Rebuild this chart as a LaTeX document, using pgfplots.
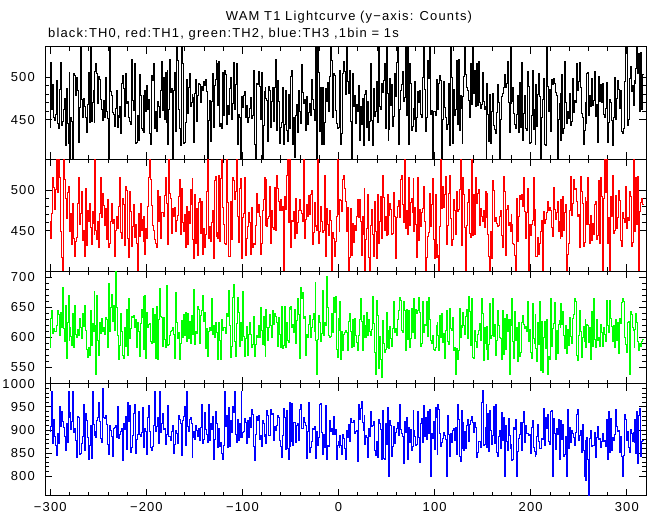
\documentclass[border=0pt]{standalone}
\usepackage{pgfplots}
\usepackage{pgfplotstable}
\pgfplotsset{compat=1.18}
\usepackage{fontspec}
\setmainfont{Liberation Sans}[LetterSpace=9]
\pgfplotstableread{
t a b c d
-300 441 462 583 897
-299 518 440 632 907
-298 462 471 645 984
-297 492 515 606 871
-296 453 503 615 922
-295 449 476 610 886
-294 456 501 609 867
-293 496 541 620 844
-292 445 497 644 893
-291 440 541 638 871
-290 486 516 603 950
-289 518 449 641 907
-288 443 417 617 940
-287 448 398 684 918
-286 462 541 615 905
-285 475 513 593 886
-284 419 490 653 855
-283 487 465 565 914
-282 445 497 624 873
-281 422 504 669 984
-280 506 479 594 928
-279 401 449 616 938
-278 453 471 601 901
-277 448 433 586 918
-276 401 483 640 984
-275 504 441 582 895
-274 502 418 653 904
-273 478 437 604 877
-272 500 442 600 840
-271 485 484 613 930
-270 423 516 603 928
-269 464 458 632 846
-268 540 471 617 848
-267 474 498 597 871
-266 453 438 640 885
-265 475 450 618 956
-264 465 418 653 855
-263 452 502 612 936
-262 435 432 580 920
-261 468 475 566 883
-260 506 462 583 836
-259 446 484 569 867
-258 540 454 645 909
-257 448 433 586 838
-256 470 474 623 984
-255 484 459 610 912
-254 447 446 677 887
-253 507 541 620 897
-252 517 451 538 884
-251 505 439 669 920
-250 469 462 594 928
-249 501 430 569 960
-248 497 471 625 918
-247 474 515 606 882
-246 462 466 631 873
-245 449 496 610 990
-244 473 481 617 926
-243 452 456 604 924
-242 500 477 633 932
-241 459 439 629 911
-240 451 488 583 869
-239 401 430 690 846
-238 540 435 609 909
-237 483 461 650 899
-236 479 483 672 885
-235 458 459 626 842
-234 456 464 653 904
-233 442 419 612 905
-232 463 451 710 910
-231 485 467 649 883
-230 441 453 603 950
-229 455 475 569 926
-228 453 480 562 881
-227 466 515 586 891
-226 434 448 640 896
-225 493 441 610 903
-224 502 490 570 834
-223 487 482 565 914
-222 454 432 616 901
-221 505 504 585 930
-220 469 499 647 857
-219 472 440 569 960
-218 453 417 665 918
-217 448 498 597 952
-216 444 474 615 852
-215 521 431 635 863
-214 473 455 633 887
-213 461 482 637 936
-212 517 442 616 954
-211 422 458 629 850
-210 423 434 583 880
-209 455 398 624 890
-208 425 471 609 940
-207 503 443 567 891
-206 479 483 623 885
-205 439 450 646 895
-204 437 464 633 948
-203 478 437 668 897
-202 435 468 580 861
-201 485 421 669 903
-200 460 453 564 897
-199 490 440 641 846
-198 462 480 617 928
-197 474 515 622 952
-196 434 541 623 896
-195 421 513 593 863
-194 502 481 589 855
-193 496 456 648 865
-192 517 451 591 910
-191 440 439 638 984
-190 460 434 564 897
-189 436 430 652 907
-188 471 500 562 928
-187 466 461 630 871
-186 453 492 681 984
-185 484 441 635 895
-184 519 472 633 914
-183 461 473 584 936
-182 500 468 633 901
-181 450 493 596 903
-180 506 516 583 869
-179 446 484 686 890
-178 508 435 645 892
-177 420 433 586 952
-176 462 541 587 885
-175 521 496 602 886
-174 482 490 609 878
-173 487 447 612 897
-172 401 477 616 910
-171 485 467 605 850
-170 506 479 564 869
-169 436 449 675 899
-168 540 463 625 892
-167 520 469 597 871
-166 462 492 607 932
-165 439 513 563 922
-164 419 446 589 914
-163 540 502 628 844
-162 517 460 600 920
-161 422 449 638 930
-160 423 470 603 950
-159 446 430 641 867
-158 497 480 592 984
-157 457 433 639 908
-156 488 474 598 896
-155 504 459 626 922
-154 465 501 589 926
-153 470 482 637 914
-152 480 514 608 840
-151 476 439 605 883
-150 423 416 680 897
-149 481 495 588 879
-148 497 435 609 909
-147 448 478 606 899
-146 479 420 651 885
-145 493 485 646 903
-144 491 490 589 878
-143 470 447 637 905
-142 489 486 644 954
-141 485 421 669 871
-140 495 453 627 880
-139 490 430 641 938
-138 497 445 581 901
-137 483 498 614 891
-136 401 541 568 873
-135 449 441 610 956
-134 473 455 617 878
-133 424 437 612 914
-132 471 460 664 901
-131 505 475 605 930
-130 441 416 619 836
-129 490 512 599 879
-128 497 517 625 940
-127 520 443 622 930
-126 516 448 607 913
-125 467 441 563 863
-124 519 518 625 904
-123 442 437 595 865
-122 445 514 562 873
-121 440 541 629 850
-120 506 479 611 836
-119 455 458 616 867
-118 508 435 617 984
-117 503 433 606 908
-116 444 541 640 932
-115 467 485 635 863
-114 456 418 679 948
-113 487 419 620 865
-112 500 486 566 920
-111 450 439 585 894
-110 469 516 667 950
-109 518 512 688 938
-108 462 489 592 984
-107 492 498 567 891
-106 516 541 623 873
-105 421 467 666 922
-104 456 436 642 878
-103 452 502 584 914
-102 401 514 624 884
-101 440 504 621 984
-100 477 416 594 884
-99 464 466 676 894
-98 479 471 601 896
-97 483 515 567 925
-96 453 420 598 917
-95 467 441 618 870
-94 447 455 570 921
-93 452 473 604 883
-92 463 460 624 927
-91 476 421 605 906
-90 451 479 583 945
-89 455 430 588 933
-88 508 435 634 864
-87 420 433 567 833
-86 401 457 587 891
-85 493 496 602 929
-84 491 472 600 921
-83 507 482 620 931
-82 489 468 600 879
-81 450 421 649 889
-80 506 434 611 864
-79 401 475 588 921
-78 443 489 634 913
-77 483 515 586 886
-76 488 457 568 891
-75 475 513 646 870
-74 473 455 617 943
-73 424 465 595 931
-72 489 468 616 888
-71 485 504 638 889
-70 441 434 619 945
-69 472 475 599 933
-68 488 454 645 935
-67 448 452 622 877
-66 488 503 640 908
-65 521 450 635 898
-64 437 518 625 909
-63 496 502 584 931
-62 471 486 633 927
-61 422 475 605 878
-60 441 488 583 864
-59 446 475 652 841
-58 488 480 581 887
-57 420 398 586 947
-56 444 492 651 927
-55 484 476 582 858
-54 437 518 625 943
-53 424 541 595 860
-52 480 460 591 835
-51 440 541 649 959
-50 495 434 647 864
-49 501 430 652 874
-48 508 463 617 957
-47 420 461 622 866
-46 453 474 607 917
-45 405 441 646 917
-44 455 490 589 873
-43 468 447 628 909
-42 435 460 664 915
-41 484 475 638 878
-40 459 488 564 945
-39 445 475 683 955
-38 515 471 665 904
-37 482 461 674 903
-36 469 541 631 927
-35 474 441 635 917
-34 437 464 570 909
-33 477 482 604 839
-32 444 468 600 896
-31 458 493 621 959
-30 469 470 636 852
-29 455 495 599 862
-28 497 500 617 876
-27 474 433 630 903
-26 462 448 640 900
-25 449 485 610 907
-24 482 455 692 850
-23 540 456 595 839
-22 401 451 538 896
-21 540 541 596 866
-20 506 434 636 884
-19 436 449 624 955
-18 488 480 592 957
-17 420 461 606 894
-16 488 448 679 847
-15 421 450 602 890
-14 447 518 625 862
-13 487 419 620 953
-12 471 477 702 835
-11 494 458 649 866
-10 460 444 603 864
-9 501 475 599 921
-8 540 463 601 896
-7 520 398 639 903
-6 453 448 607 891
-5 504 441 666 929
-4 502 418 642 890
-3 461 437 668 900
-2 445 468 580 835
-1 440 541 566 866
0 441 470 631 875
1 501 449 611 862
2 508 489 660 887
3 420 487 562 866
4 434 474 610 847
5 504 513 577 890
6 519 518 604 882
7 507 502 607 860
8 480 486 611 835
9 540 449 608 898
10 495 479 578 884
11 481 398 627 911
12 508 417 640 876
13 448 478 609 925
14 401 420 582 917
15 504 459 630 917
16 465 436 584 921
17 478 456 632 892
18 445 451 603 896
19 468 467 591 898
20 460 488 578 831
21 490 466 603 955
22 425 489 629 923
23 466 461 665 947
24 444 420 626 961
25 475 467 577 917
26 419 446 637 899
27 442 502 599 931
28 480 398 619 868
29 485 439 600 889
30 441 453 642 884
31 472 495 603 841
32 425 417 629 904
33 448 398 609 886
34 516 457 602 939
35 449 476 613 907
36 419 446 668 909
37 487 419 623 919
38 454 486 575 856
39 459 449 538 845
40 495 416 662 875
41 446 495 636 841
42 540 435 548 923
43 466 461 601 913
44 462 492 563 900
45 493 441 532 837
46 482 518 628 943
47 496 491 590 839
48 517 451 575 835
49 440 467 580 915
50 540 444 642 868
51 481 495 583 948
52 425 445 612 897
53 438 469 581 800
54 499 483 618 920
55 467 476 597 910
56 491 446 584 843
57 442 447 615 865
58 454 497 659 908
59 505 467 608 871
60 477 416 614 894
61 518 466 603 904
62 540 480 629 916
63 420 487 645 887
64 462 466 666 954
65 484 513 661 900
66 491 518 612 892
67 507 482 607 885
68 471 460 659 828
69 476 541 644 918
70 540 453 578 894
71 455 475 647 926
72 540 445 596 836
73 420 515 645 906
74 516 457 582 873
75 493 485 597 900
76 437 490 648 855
77 442 473 607 865
78 463 514 659 942
79 450 449 664 899
80 495 479 598 885
81 436 458 647 867
82 453 417 640 869
83 483 515 645 940
84 470 438 666 884
85 484 476 641 830
86 456 455 584 914
87 452 473 590 924
88 500 477 659 872
89 540 504 608 952
90 486 462 622 885
91 436 398 619 926
92 453 417 660 880
93 520 443 601 940
94 499 448 666 893
95 536 496 630 944
96 456 455 595 800
97 461 482 590 893
98 401 514 603 881
99 459 439 580 918
100 460 416 578 857
101 455 495 583 948
102 497 417 620 928
103 466 433 625 847
104 462 420 602 954
105 493 398 577 944
106 502 455 637 892
107 496 541 599 865
108 401 477 639 872
109 450 504 591 882
110 495 479 606 894
111 464 495 564 887
112 453 517 612 880
113 438 433 645 800
114 444 457 593 932
115 493 496 588 891
116 419 518 648 843
117 540 465 615 893
118 500 432 611 872
119 422 439 633 899
120 486 488 578 904
121 455 475 583 878
122 462 445 538 906
123 520 498 581 847
124 444 474 563 954
125 521 476 577 922
126 437 501 648 843
127 478 541 599 832
128 463 432 619 942
129 422 458 616 859
130 477 516 642 916
131 501 495 619 855
132 540 454 604 897
133 503 398 634 859
134 488 457 646 910
135 484 485 597 922
136 473 501 668 875
137 452 447 643 912
138 517 442 586 920
139 468 541 664 930
140 540 444 566 916
141 481 495 564 895
142 508 445 612 916
143 466 515 592 906
144 516 483 582 840
145 467 496 605 851
146 519 501 612 875
147 470 456 623 876
148 463 477 595 861
149 468 467 664 960
150 506 462 639 985
151 472 475 561 867
152 462 454 617 869
153 466 498 589 906
154 401 466 579 954
155 493 496 618 863
156 456 446 562 936
157 424 419 587 853
158 480 398 656 942
159 422 449 597 899
160 460 416 603 868
161 481 512 664 887
162 443 500 601 950
163 438 461 622 870
164 434 466 569 954
165 458 459 594 851
166 491 455 645 843
167 470 456 620 885
168 401 468 600 898
169 450 475 597 859
170 477 444 563 938
171 481 430 644 878
172 488 517 571 928
173 503 498 631 800
174 488 420 579 910
175 493 476 638 874
176 519 481 609 855
177 470 456 629 924
178 435 460 538 889
179 540 449 630 859
180 469 470 619 868
181 472 458 664 834
182 488 435 593 836
183 457 433 565 906
184 444 420 643 901
185 439 398 594 922
186 456 490 617 800
187 478 437 560 853
188 435 468 625 881
189 494 493 568 891
190 441 488 575 916
191 518 495 624 855
192 425 480 637 916
193 457 515 622 940
194 479 474 615 873
195 439 441 618 910
196 437 472 609 892
197 507 502 660 893
198 489 398 592 889
199 422 458 613 891
200 423 444 575 849
201 455 458 564 906
202 508 463 657 920
203 438 515 598 862
204 462 457 590 853
205 421 476 638 843
206 491 418 581 847
207 442 419 559 885
208 480 442 625 912
209 505 421 588 874
210 477 434 659 860
211 401 449 545 859
212 453 463 626 881
213 474 398 541 879
214 499 474 599 946
215 421 459 627 866
216 419 464 581 928
217 540 473 629 904
218 489 486 538 934
219 459 475 567 874
220 486 479 562 869
221 436 475 664 940
222 497 454 584 942
223 492 443 614 800
224 499 503 623 924
225 493 476 658 892
226 482 464 562 858
227 478 473 612 904
228 401 486 572 890
229 450 449 621 922
230 469 462 628 837
231 481 440 616 896
232 425 489 657 920
233 503 443 622 879
234 434 492 643 912
235 439 450 602 843
236 519 472 581 847
237 470 482 620 885
238 445 398 572 800
239 459 421 613 944
240 451 434 586 860
241 481 475 633 906
242 443 517 601 872
243 448 469 589 898
244 499 483 632 893
245 458 513 638 883
246 473 501 665 867
247 470 502 660 894
248 517 486 570 934
249 485 467 561 944
250 495 470 603 877
251 518 430 644 887
252 488 517 609 898
253 457 498 566 851
254 453 483 599 912
255 421 431 618 855
256 437 436 592 800
257 470 491 629 877
258 445 486 583 790
259 505 458 621 883
260 506 516 619 837
261 455 458 591 757
262 479 435 617 881
263 466 469 563 898
264 499 438 643 865
265 467 459 585 866
266 473 446 665 867
267 507 482 596 894
268 454 486 583 841
269 468 439 630 883
270 423 444 595 908
271 501 512 600 879
272 471 435 584 881
273 492 515 622 862
274 470 492 607 876
275 493 398 585 892
276 456 490 617 875
277 452 541 604 877
278 463 497 592 864
279 494 541 661 922
280 423 434 619 837
281 446 466 608 940
282 453 445 626 920
283 474 398 662 851
284 470 492 632 924
285 449 467 618 855
286 419 518 592 884
287 452 447 620 877
288 500 451 583 890
289 450 493 630 944
290 475 453 595 908
291 496 466 624 896
292 486 500 573 898
293 463 487 631 851
294 485 438 623 885
295 436 431 658 843
296 434 472 665 800
297 439 465 660 845
298 495 460 600 934
299 537 504 588 922
300 536 453 575 877
301 443 466 624 896
302 450 463 626 861
303 499 498 538 851
304 513 492 643 902
305 483 431 638 892
306 490 436 617 875
307 467 541 612 894
308 496 451 583 873
309 493 449 613 922
310 511 516 639 849
311 536 458 624 940
312 504 517 593 828
313 528 398 578 932
314 459 474 590 946
315 529 485 585 843
316 462 490 592 875
317 503 482 596 877
}\lc
\pgfplotsset{
  panel/.style={
    scale only axis, width=601bp, height=112.25bp,
    anchor=south west,
    xmin=-305.5, xmax=320,
    xtick={-300,-200,...,300}, minor x tick num=4,
    minor y tick num=4,
    tick align=inside, tick pos=both,
    major tick length=7bp, minor tick length=4bp,
    every tick/.style={black, line width=0.8bp},
    axis line style={line width=1bp},
    xticklabels={},
    yticklabel style={anchor=east, inner sep=0pt, xshift=-10bp,
      font=\fontsize{13}{15}\selectfont},
    /pgf/number format/assume math mode=true,
    /pgf/number format/1000 sep={},
    clip=true,
  },
  curve/.style={const plot mark mid, line width=1bp, mark=none},
}
\begin{document}
\begin{tikzpicture}[x=1bp,y=1bp]
\useasboundingbox (0,0) rectangle (652,515);
\node[anchor=base, font=\fontsize{13}{15}\selectfont] at (349,494.3) {WAM T1 Lightcurve (y−axis: Counts)};
\node[anchor=base west, inner sep=0pt, font=\fontsize{13}{15}\selectfont] at (48,477.7) {black:TH0, red:TH1, green:TH2, blue:TH3 ,1bin = 1s};
\begin{axis}[panel, at={(45bp,355.75bp)}, ymin=403, ymax=536, ytick={450,500}]
\addplot[curve, black] table[x=t, y=a]{\lc};
\end{axis}
\begin{axis}[panel, at={(45bp,243.5bp)}, ymin=400, ymax=538, ytick={450,500}]
\addplot[curve, red] table[x=t, y=b]{\lc};
\end{axis}
\begin{axis}[panel, at={(45bp,131.25bp)}, ymin=522, ymax=710, ytick={550,600,650,700}]
\addplot[curve, green] table[x=t, y=c]{\lc};
\end{axis}
\begin{axis}[panel, at={(45bp,19bp)}, ymin=757, ymax=1000, ytick={800,850,900,950,1000},
  xticklabels={−300,−200,−100,0,100,200,300},
  xticklabel style={anchor=north, inner sep=0pt, yshift=-6.5bp, font=\fontsize{13}{15}\selectfont}]
\addplot[curve, blue] table[x=t, y=d]{\lc};
\end{axis}
\end{tikzpicture}
\end{document}
